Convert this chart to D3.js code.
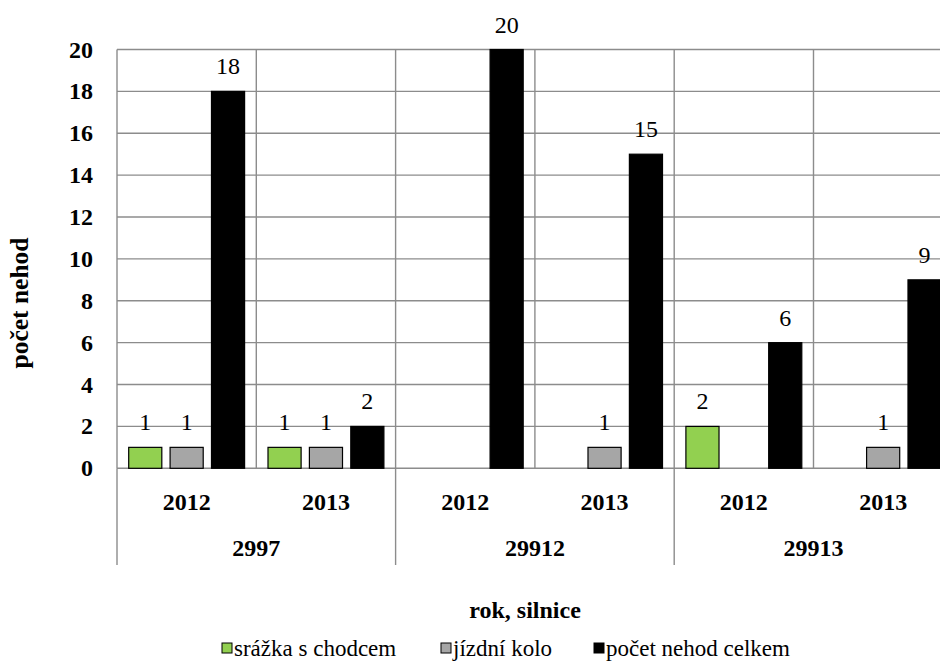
<html>
<head>
    <script src="https://cdn.jsdelivr.net/npm/d3@7"></script>
    <style>
        body { margin: 0; background: #fff; }
        svg text { font-family: "Times New Roman", "Liberation Serif", Times, "DejaVu Serif", serif; }
    </style>
</head>
<body>
    <svg id="chart" width="940" height="664"></svg>
    <script>
        // data
        var roads = ["2997", "29912", "29913"];
        var years = ["2012", "2013"];
        var series = ["srážka s chodcem", "jízdní kolo", "počet nehod celkem"];
        var colors = ["#92d050", "#a6a6a6", "#000000"];
        // one entry per road+year, in order (null = no bar)
        var pedestrian = [1, 1, null, null, 2, null];
        var bicycle = [1, 1, null, 1, null, 1];
        var total = [18, 2, 20, 15, 6, 9];
        var yTicks = [0, 2, 4, 6, 8, 10, 12, 14, 16, 18, 20];

        var svg = d3.select("#chart");

        var plotLeft = 117, plotTop = 49.5, plotBottom = 468.3, groupW = 139.3;
        var plotRight = plotLeft + groupW * 6;

        var cats = [];
        roads.forEach(function (r) {
            years.forEach(function (yr) { cats.push(r + "|" + yr); });
        });

        var rows = cats.map(function (c, i) {
            return { cat: c, values: [pedestrian[i], bicycle[i], total[i]] };
        });

        var x0 = d3.scaleBand().domain(cats).range([plotLeft, plotRight]);
        var x1 = d3.scaleBand().domain(series).range([11.7, groupW - 11.7]).paddingInner(0.2);
        var y = d3.scaleLinear().domain([0, 20]).range([plotBottom, plotTop]);

        var grid = "#8c8c8c";

        // horizontal gridlines
        svg.append("g").selectAll("line")
            .data(yTicks)
            .enter()
            .append("line")
            .attr("x1", plotLeft).attr("x2", plotRight)
            .attr("y1", (d) => y(d)).attr("y2", (d) => y(d))
            .attr("stroke", grid).attr("stroke-width", 1.4);

        // vertical gridlines at category boundaries
        var bounds = cats.map((c) => x0(c)).concat([plotRight]);
        svg.append("g").selectAll("line")
            .data(bounds)
            .enter()
            .append("line")
            .attr("x1", (d) => d).attr("x2", (d) => d)
            .attr("y1", plotTop).attr("y2", plotBottom)
            .attr("stroke", grid).attr("stroke-width", 1.4);

        // road separators below the axis
        var roadBounds = roads.map((r) => x0(r + "|2012")).concat([plotRight]);
        svg.append("g").selectAll("line")
            .data(roadBounds)
            .enter()
            .append("line")
            .attr("x1", (d) => d).attr("x2", (d) => d)
            .attr("y1", plotBottom).attr("y2", 565)
            .attr("stroke", grid).attr("stroke-width", 1.4);

        // bars
        var groups = svg.append("g").selectAll("g")
            .data(rows)
            .enter()
            .append("g")
            .attr("transform", (d) => "translate(" + x0(d.cat) + ",0)");

        var cells = groups.selectAll("g")
            .data((d) => d.values.map(function (v, i) { return { s: series[i], v: v, i: i }; })
                .filter((e) => e.v !== null))
            .enter()
            .append("g");

        cells.append("rect")
            .attr("x", (d) => x1(d.s))
            .attr("y", (d) => y(d.v))
            .attr("width", x1.bandwidth())
            .attr("height", (d) => y(0) - y(d.v))
            .attr("fill", (d) => colors[d.i])
            .attr("stroke", "#000")
            .attr("stroke-width", 1.2);

        cells.append("text")
            .attr("x", (d) => x1(d.s) + x1.bandwidth() / 2)
            .attr("y", (d) => y(d.v) - 17)
            .attr("text-anchor", "middle")
            .attr("font-size", 24)
            .text((d) => d.v);

        // y tick labels
        svg.append("g").selectAll("text")
            .data(yTicks)
            .enter()
            .append("text")
            .attr("x", 93)
            .attr("y", (d) => y(d) + 8)
            .attr("text-anchor", "end")
            .attr("font-size", 24)
            .attr("font-weight", "bold")
            .text((d) => d);

        // year labels
        svg.append("g").selectAll("text")
            .data(cats)
            .enter()
            .append("text")
            .attr("x", (d) => x0(d) + x0.bandwidth() / 2)
            .attr("y", 510)
            .attr("text-anchor", "middle")
            .attr("font-size", 24)
            .attr("font-weight", "bold")
            .text((d) => d.split("|")[1]);

        // road labels
        svg.append("g").selectAll("text")
            .data(roads)
            .enter()
            .append("text")
            .attr("x", (d) => x0(d + "|2012") + x0.bandwidth())
            .attr("y", 556)
            .attr("text-anchor", "middle")
            .attr("font-size", 24)
            .attr("font-weight", "bold")
            .text((d) => d);

        // axis titles
        svg.append("text")
            .attr("transform", "translate(28,303) rotate(-90)")
            .attr("text-anchor", "middle")
            .attr("font-size", 25.5)
            .attr("font-weight", "bold")
            .text("počet nehod");

        svg.append("text")
            .attr("x", 525)
            .attr("y", 618)
            .attr("text-anchor", "middle")
            .attr("font-size", 24)
            .attr("font-weight", "bold")
            .text("rok, silnice");

        // legend
        var legendX = [222, 441, 594];
        var legend = svg.append("g").selectAll("g")
            .data(series)
            .enter()
            .append("g")
            .attr("transform", (d, i) => "translate(" + legendX[i] + ",0)");

        legend.append("rect")
            .attr("x", 0).attr("y", 643)
            .attr("width", 10).attr("height", 10)
            .attr("fill", (d, i) => colors[i])
            .attr("stroke", "#000").attr("stroke-width", 1);

        legend.append("text")
            .attr("x", 12).attr("y", 656)
            .attr("font-size", 23)
            .text((d) => d);
    </script>
</body>
</html>
